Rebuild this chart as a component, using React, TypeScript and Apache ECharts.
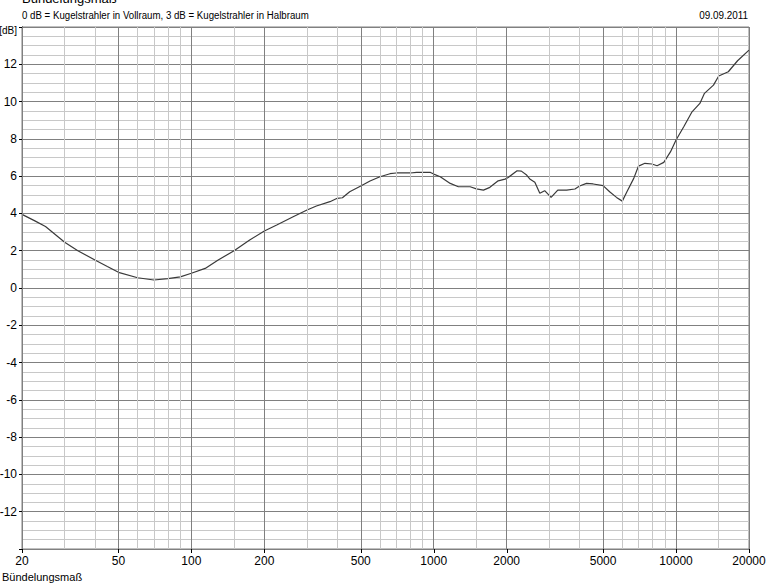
import React, { useRef, useEffect } from 'react';
import * as echarts from 'echarts';

const FONT = '"Liberation Sans", Arial, sans-serif';

// ─── Data ────────────────────────────────────────────────────────────────────
const FREQ = [
  20, 22.6, 25, 30, 34, 40, 45, 50, 60, 70, 80, 90, 100, 114, 129, 150, 174,
  200, 225, 263, 300, 328, 373, 400, 420, 450, 500, 546, 600, 660, 700, 800,
  850, 970, 1000, 1064, 1170, 1264, 1414, 1500, 1604, 1705, 1845, 1970, 2030,
  2208, 2300, 2418, 2500, 2614, 2740, 2870, 3050, 3250, 3536, 3826, 4000,
  4270, 4550, 5000, 5320, 5680, 6000, 6270, 6690, 7000, 7440, 7950, 8350,
  8900, 9480, 10000, 10760, 11640, 12540, 13100, 14270, 15000, 16430, 17940,
  20000,
];
const DB = [
  3.95, 3.6, 3.3, 2.45, 2.0, 1.5, 1.15, 0.84, 0.55, 0.43, 0.5, 0.6, 0.79, 1.05,
  1.5, 2.0, 2.57, 3.06, 3.38, 3.82, 4.18, 4.4, 4.63, 4.81, 4.84, 5.16, 5.47,
  5.74, 5.97, 6.13, 6.17, 6.17, 6.2, 6.2, 6.11, 5.97, 5.61, 5.43, 5.43, 5.32,
  5.25, 5.4, 5.75, 5.84, 5.93, 6.29, 6.27, 6.06, 5.83, 5.67, 5.08, 5.22, 4.86,
  5.25, 5.25, 5.31, 5.47, 5.61, 5.58, 5.49, 5.16, 4.86, 4.66, 5.16, 5.88, 6.54,
  6.69, 6.65, 6.56, 6.74, 7.3, 7.94, 8.65, 9.45, 9.9, 10.44, 10.88, 11.37,
  11.6, 12.19, 12.76,
];

// frequency grid (labelled majors, unlabelled minors)
const MAJOR_F = [20, 50, 100, 200, 500, 1000, 2000, 5000, 10000, 20000];
const MINOR_F = [
  30, 40, 60, 70, 80, 90, 150, 300, 400, 600, 700, 800, 900, 1500, 3000, 4000,
  6000, 7000, 8000, 9000, 15000,
];

const Y_MIN = -14;
const Y_MAX = 14;

const TITLE = 'Bündelungsmaß';
const SUBTITLE = '0 dB = Kugelstrahler in Vollraum, 3 dB = Kugelstrahler in Halbraum';
const DATE = '09.09.2011';

const MAJOR_COLOR = '#808080';
const MINOR_COLOR = '#c8c8c8';

function getOption(): echarts.EChartsCoreOption {
  return {
    animation: false,
    backgroundColor: '#ffffff',
    textStyle: { fontFamily: FONT },
    grid: {
      left: 22, right: 35, top: 27, bottom: 37,
      containLabel: false,
      outerBoundsMode: 'none',
      show: true, borderColor: MAJOR_COLOR, borderWidth: 1,
    },
    xAxis: {
      type: 'log',
      logBase: 10,
      min: 20,
      max: 20000,
      axisLine: { show: false },
      axisTick: { show: false },
      axisLabel: { show: false },
      splitLine: { show: false },
      minorSplitLine: { show: false },
    },
    yAxis: {
      type: 'value',
      min: Y_MIN,
      max: Y_MAX,
      interval: 2,
      axisLine: { show: true, lineStyle: { color: '#000', width: 1 } },
      axisTick: { show: true, inside: false, length: 3, lineStyle: { color: '#000' } },
      axisLabel: {
        margin: 5,
        color: '#000',
        fontSize: 12,
        fontFamily: FONT,
        formatter: (v: number) => (v === Y_MAX ? '{u|[dB]}' : v === Y_MIN ? '' : String(v)),
        rich: { u: { fontSize: 10, fontFamily: FONT, color: '#000', padding: [7, 0, 0, 0] } },
      },
      splitLine: { show: true, lineStyle: { color: MAJOR_COLOR, width: 1 } },
      minorTick: { show: false, splitNumber: 4 },
      minorSplitLine: { show: true, lineStyle: { color: MINOR_COLOR, width: 1 } },
    },
    series: [
      {
        name: 'grid',
        type: 'line',
        data: [],
        silent: true,
        z: 1,
        markLine: {
          silent: true,
          symbol: ['none', 'none'],
          animation: false,
          data: [
            ...MINOR_F.map((f) => ({
              xAxis: f,
              lineStyle: { color: MINOR_COLOR, width: 1, type: 'solid' },
              label: { show: false },
            })),
            ...MAJOR_F.map((f) => ({
              xAxis: f,
              lineStyle: { color: MAJOR_COLOR, width: 1, type: 'solid' },
              label: {
                show: true,
                position: 'start',
                distance: 6,
                color: '#000',
                fontSize: 12,
                fontFamily: FONT,
                formatter: String(f),
              },
            })),
          ],
        },
      },
      {
        name: TITLE,
        type: 'line',
        data: FREQ.map((f, i) => [f, DB[i]]),
        showSymbol: false,
        smooth: false,
        z: 3,
        lineStyle: { color: '#3a3a3a', width: 1.2 },
      },
    ],
  };
}

function tickGraphics(chart: echarts.ECharts) {
  const bottom = chart.convertToPixel({ yAxisIndex: 0 }, Y_MIN) as number;
  return MAJOR_F.map((f) => {
    const x = Math.round(chart.convertToPixel({ xAxisIndex: 0 }, f) as number) + 0.5;
    return {
      type: 'line',
      silent: true,
      shape: { x1: x, y1: bottom, x2: x, y2: bottom + 4 },
      style: { stroke: '#000', lineWidth: 1 },
    };
  });
}

export default function App() {
  const ref = useRef<HTMLDivElement>(null);

  useEffect(() => {
    if (!ref.current) return;
    const chart = echarts.init(ref.current, undefined, { renderer: 'svg' });
    chart.setOption(getOption());
    chart.setOption({
      graphic: [
        {
          type: 'text', left: 22, top: -8, silent: true,
          style: { text: TITLE, font: `13px ${FONT}`, fill: '#000' },
        },
        {
          type: 'text', x: 22, y: 15, scaleX: 0.88, silent: true,
          style: { text: SUBTITLE, font: `11px ${FONT}`, fill: '#000', verticalAlign: 'middle' },
        },
        {
          type: 'text', x: 748, y: 15, scaleX: 0.9, silent: true,
          style: { text: DATE, font: `11px ${FONT}`, fill: '#000', align: 'right', verticalAlign: 'middle' },
        },
        {
          type: 'text', x: 2, y: 577, silent: true,
          style: { text: TITLE, font: `11px ${FONT}`, fill: '#000', verticalAlign: 'middle' },
        },
        ...tickGraphics(chart),
      ],
    });
    return () => chart.dispose();
  }, []);

  return (
    <div
      ref={ref}
      style={{ position: 'fixed', left: 0, top: 0, width: 784, height: 586, background: '#fff' }}
    />
  );
}
